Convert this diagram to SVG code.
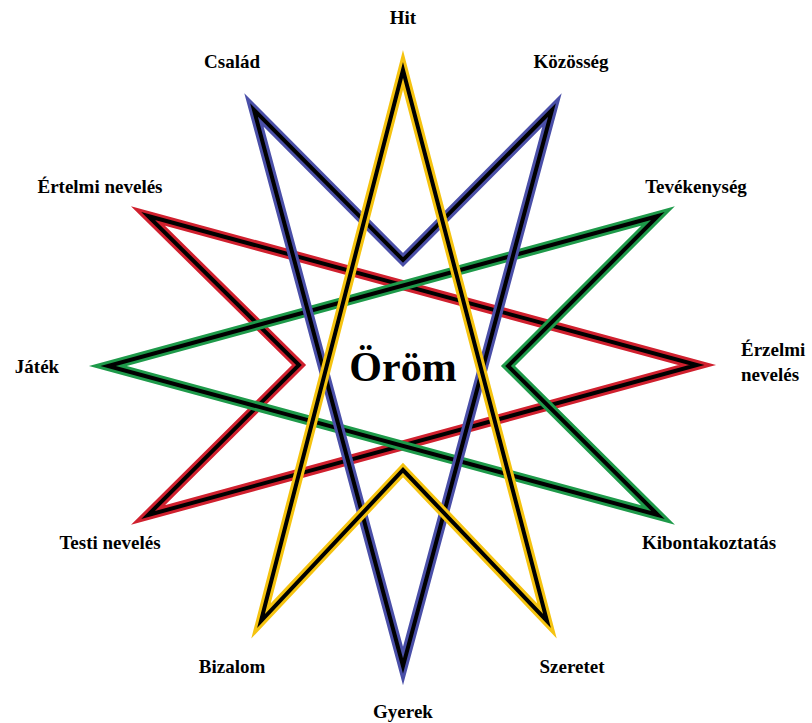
<svg xmlns="http://www.w3.org/2000/svg" width="812" height="723" viewBox="0 0 812 723">
<style>
.c{fill:none;stroke-width:10;stroke-linejoin:miter;stroke-miterlimit:20}
.k{fill:none;stroke:#000;stroke-width:4;stroke-linejoin:miter;stroke-miterlimit:20}
.t{font-family:"Liberation Serif","DejaVu Serif",serif;font-weight:bold;font-size:19px;fill:#000;text-anchor:middle}
</style>
<rect width="812" height="723" fill="#fff"/>
<g id="connectors">
<g id="red"><polygon class="c" stroke="#d0202e" points="148,216 697,365 148,515 299,365"/><polygon class="k" points="148,216 697,365 148,515 299,365"/></g>
<g id="green"><polygon class="c" stroke="#1e9a4a" points="658,216 108,366 658,515 508,366"/><polygon class="k" points="658,216 108,366 658,515 508,366"/></g>
<g id="blue"><polygon class="c" stroke="#4a4fa8" points="254,110 403,260 552,110 403,666"/><polygon class="k" points="254,110 403,260 552,110 403,666"/></g>
<g id="yellow"><polygon class="c" stroke="#f5c310" points="403,70 547,621 403,470 261,621"/><polygon class="k" points="403,70 547,621 403,470 261,621"/></g>
</g>
<g id="center"><text class="t" x="403" y="381" style="font-size:42px">Öröm</text></g>
<g id="n-hit"><text class="t" x="403" y="24">Hit</text></g>
<g id="n-csalad"><text class="t" x="232" y="68">Család</text></g>
<g id="n-kozosseg"><text class="t" x="571" y="68">Közösség</text></g>
<g id="n-ertelmi"><text class="t" x="100" y="193">Értelmi nevelés</text></g>
<g id="n-tevekenyseg"><text class="t" x="696" y="193">Tevékenység</text></g>
<g id="n-jatek"><text class="t" x="37" y="373">Játék</text></g>
<g id="n-erzelmi"><text class="t" x="741" y="356" style="text-anchor:start">Érzelmi</text><text class="t" x="741" y="381" style="text-anchor:start">nevelés</text></g>
<g id="n-testi"><text class="t" x="110" y="549">Testi nevelés</text></g>
<g id="n-kibontakoztatas"><text class="t" x="709" y="549">Kibontakoztatás</text></g>
<g id="n-bizalom"><text class="t" x="232" y="673">Bizalom</text></g>
<g id="n-szeretet"><text class="t" x="572" y="673">Szeretet</text></g>
<g id="n-gyerek"><text class="t" x="403" y="718">Gyerek</text></g>
</svg>
